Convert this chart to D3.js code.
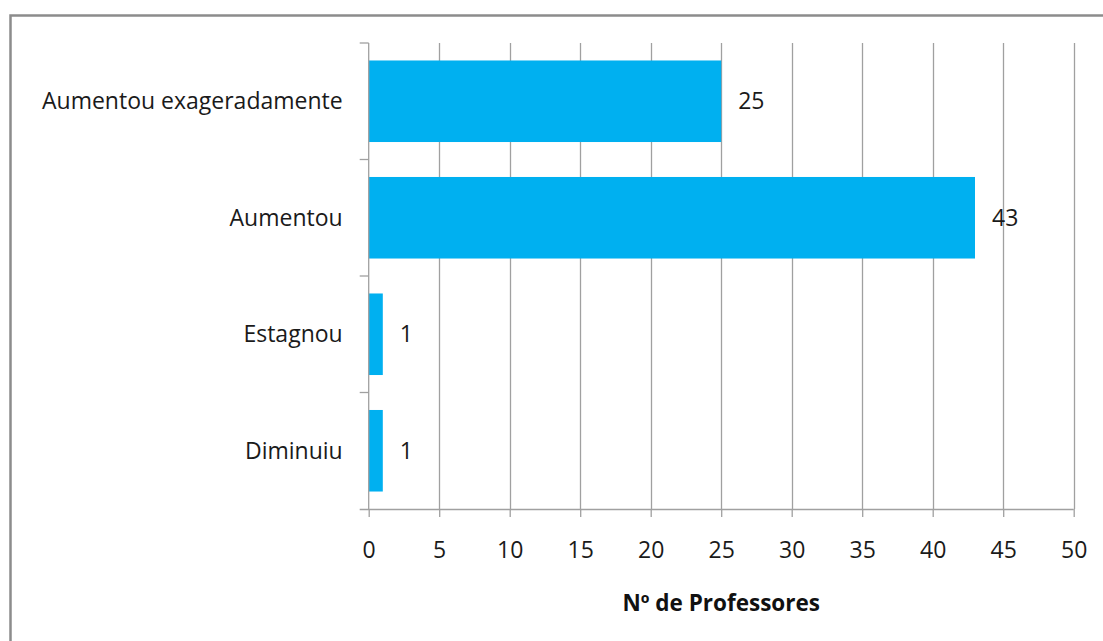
<!DOCTYPE html>
<html lang="pt">
<head>
    <meta charset="UTF-8">
    <title>Nº de Professores</title>
    <script src="https://cdn.jsdelivr.net/npm/d3@7"></script>
    <style>
        body { margin: 0; background: #fff; }
        svg { display: block; font-family: "Open Sans", sans-serif; }
    </style>
</head>
<body>
<script>

    var categories = ["Aumentou exageradamente", "Aumentou", "Estagnou", "Diminuiu"];
    var values = [25, 43, 1, 1];
    var xTicks = [0, 5, 10, 15, 20, 25, 30, 35, 40, 45, 50];
    var axisTitle = "Nº de Professores";

    var W = 1103, H = 641;
    var pLeft = 368.7, pRight = 1073.7, pTop = 43, pBottom = 509;

    var svg = d3.select("body").append("svg")
            .attr("width", W)
            .attr("height", H);

    // chart frame (cut at right and bottom as in the picture)
    svg.append("rect")
            .attr("x", 10.5).attr("y", 15.5)
            .attr("width", 1110).attr("height", 700)
            .attr("fill", "none")
            .attr("stroke", "#8c8c8c")
            .attr("stroke-width", 2.5);

    var x = d3.scaleLinear().domain([0, 50]).range([pLeft, pRight]);
    var y = d3.scaleBand().domain(categories).range([pTop, pBottom])
            .paddingInner(0.3).paddingOuter(0.15);

    // vertical gridlines
    svg.append("g").selectAll("line")
            .data(xTicks.slice(1))
            .enter().append("line")
            .attr("x1", function(d) { return Math.round(x(d)) + 0.5; })
            .attr("x2", function(d) { return Math.round(x(d)) + 0.5; })
            .attr("y1", pTop).attr("y2", pBottom)
            .attr("stroke", "#a0a0a0")
            .attr("stroke-width", 1.3);

    // bars
    svg.append("g").selectAll("rect")
            .data(values)
            .enter().append("rect")
            .attr("x", x(0))
            .attr("y", function(d, i) { return y(categories[i]); })
            .attr("width", function(d) { return x(d) - x(0); })
            .attr("height", y.bandwidth())
            .attr("fill", "#00b0f0");

    // x axis
    var xAxis = d3.axisBottom(x).tickValues(xTicks).tickSize(8).tickPadding(25);
    var gx = svg.append("g")
            .attr("transform", "translate(0," + pBottom + ")")
            .call(xAxis);
    gx.select(".domain").remove();
    gx.append("line")
            .attr("x1", pLeft - 9).attr("x2", pRight)
            .attr("y1", 0.5).attr("y2", 0.5)
            .attr("stroke", "#a0a0a0").attr("stroke-width", 1.3);
    gx.selectAll(".tick line").attr("stroke", "#a0a0a0").attr("stroke-width", 1.3);
    gx.selectAll(".tick text")
            .attr("fill", "#1a1a1a")
            .style("font-size", "23px")
            .style("font-family", "'Open Sans', sans-serif");

    // y axis with ticks at band boundaries
    var gy = svg.append("g");
    gy.append("line")
            .attr("x1", pLeft).attr("x2", pLeft)
            .attr("y1", pTop).attr("y2", pBottom)
            .attr("stroke", "#a0a0a0").attr("stroke-width", 1.3);
    var step = (pBottom - pTop) / categories.length;
    gy.selectAll(".bt")
            .data(d3.range(categories.length))
            .enter().append("line")
            .attr("x1", pLeft - 9).attr("x2", pLeft)
            .attr("y1", function(d) { return pTop + d * step; })
            .attr("y2", function(d) { return pTop + d * step; })
            .attr("stroke", "#a0a0a0").attr("stroke-width", 1.3);
    gy.selectAll("text")
            .data(categories)
            .enter().append("text")
            .attr("x", pLeft - 26)
            .attr("y", function(d) { return y(d) + y.bandwidth() / 2; })
            .attr("dy", "0.35em")
            .attr("text-anchor", "end")
            .attr("fill", "#1a1a1a")
            .style("font-size", "23px")
            .text(function(d) { return d; });

    // value labels
    svg.append("g").selectAll("text")
            .data(values)
            .enter().append("text")
            .attr("x", function(d) { return x(d) + 17; })
            .attr("y", function(d, i) { return y(categories[i]) + y.bandwidth() / 2; })
            .attr("dy", "0.35em")
            .attr("fill", "#1a1a1a")
            .style("font-size", "23px")
            .text(function(d) { return d; });

    // axis title
    svg.append("text")
            .attr("x", (pLeft + pRight) / 2)
            .attr("y", 611)
            .attr("text-anchor", "middle")
            .attr("fill", "#111")
            .style("font-size", "22.5px")
            .style("font-weight", "bold")
            .text(axisTitle);

</script>
</body>
</html>
